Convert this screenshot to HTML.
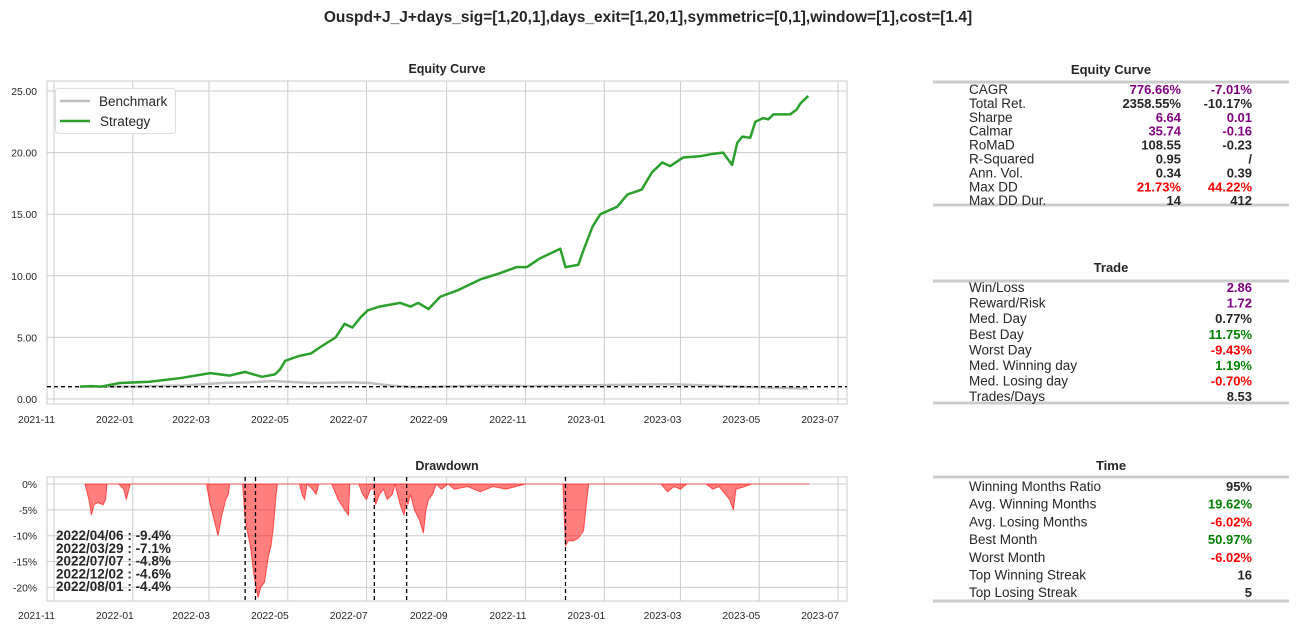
<!DOCTYPE html>
<html><head><meta charset="utf-8">
<style>
body{margin:0;background:#fff;font-family:"Liberation Sans",sans-serif;}
svg{display:block}
text{font-family:"Liberation Sans",sans-serif;fill:#262626}
</style></head>
<body>
<svg id="c" width="1297" height="631" viewBox="0 0 1297 631">
<text x="648" y="22" text-anchor="middle" font-size="15.5" font-weight="bold">Ouspd+J_J+days_sig=[1,20,1],days_exit=[1,20,1],symmetric=[0,1],window=[1],cost=[1.4]</text>
<g id="eq"></g>
<g id="dd"></g>
<g id="tb"></g>
</svg>
<script>
// days since 2021-11-01
const stratDays=[20,29,36,51,74,98,121,136,148,161,171,175,179,190,199,206,218,225,231,238,243,252,268,276,282,290,299,312,330,345,358,366,376,392,396,406,410,417,423,436,444,455,463,471,477,487,500,510,518,525,529,533,539,543,549,553,557,570,575,578,584];
const stratVals=[1.0,1.05,1.0,1.3,1.4,1.7,2.1,1.9,2.2,1.8,2.0,2.4,3.1,3.5,3.7,4.2,5.0,6.1,5.8,6.7,7.2,7.5,7.8,7.5,7.8,7.3,8.3,8.8,9.7,10.2,10.7,10.7,11.4,12.2,10.7,10.9,12.1,14.0,15.0,15.6,16.6,17.0,18.4,19.2,18.9,19.6,19.7,19.9,20.0,19.0,20.8,21.3,21.2,22.5,22.8,22.7,23.1,23.1,23.5,24.0,24.6];
const benchDays=[20,60,100,130,150,170,180,200,230,245,260,280,300,340,370,400,440,480,520,560,584];
const benchVals=[1.0,1.0,1.1,1.3,1.35,1.45,1.4,1.3,1.35,1.3,1.1,0.95,1.0,1.1,1.05,1.1,1.15,1.2,1.05,0.9,0.85];
const ddDays=[24,27,29,31,34,38,40,41,50,54,56,58,59,60,118,121,124,127,130,133,135,136,146,148,152,155,158,160,163,166,168,170,172,173,190,192,194,196,200,203,205,215,220,225,228,229,236,239,242,245,248,249,252,255,258,262,264,268,271,273,274,276,279,283,286,288,290,293,296,300,305,310,320,330,340,350,365,394,396,398,402,406,410,413,414,470,475,480,485,490,505,510,515,523,526,528,535,540,585];
const ddVals=[0,-3,-6,-4,-3.6,-4,-3,0,0,-1,-3,-1,0,0,0,-4,-7,-10,-6,-3,-2,0,0,-7,-12,-18,-22,-20,-19,-14,-12,-8,-2,0,0,-2,-3,0,-1,-2,0,0,-3,-5,-6,0,0,-2,-3,-1,-1,-4,-2,-1,-3,-2,0,-4,-6,-3,-4,-2,-5,-7,-9.5,-5,-3,-2,0,-1,0,-1,-0.5,-1.5,-0.5,-1,0,0,-12,-11,-11,-10.5,-9,-2,0,0,-1.5,-0.5,-1,0,0,-1,-0.5,-3,-5,-1,-0.5,0,0];
const vlineDays=[148,156,248,273,396];
const ddNotes=["2022/04/06 : -9.4%","2022/03/29 : -7.1%","2022/07/07 : -4.8%","2022/12/02 : -4.6%","2022/08/01 : -4.4%"];
const monthTickDays=[0,61,120,181,242,304,365,426,485,546,607];
const monthTickLabels=["2021-11","2022-01","2022-03","2022-05","2022-07","2022-09","2022-11","2023-01","2023-03","2023-05","2023-07"];
const eqTicks=[0,5,10,15,20,25];
const ddTicks=[0,-5,-10,-15,-20];

const NS="http://www.w3.org/2000/svg";
function el(tag,attrs,parent,txt){const e=document.createElementNS(NS,tag);for(const k in attrs)e.setAttribute(k,attrs[k]);if(txt!==undefined)e.textContent=txt;parent.appendChild(e);return e;}
const X=d=>54+d*1.2916;
const L=47,R=847;
// Equity chart
const eq=document.getElementById('eq');
const T1=81,B1=404;
const Y1=v=>399-v*12.32;
let r=el('rect',{x:L,y:T1,width:R-L,height:B1-T1,fill:'#fff',stroke:'#ccc','stroke-width':1},eq);

el('text',{x:(L+R)/2,y:73,'text-anchor':'middle','font-size':12.5,'font-weight':'bold'},eq,'Equity Curve');
monthTickDays.forEach((d,i)=>{
  const ln=el('line',{x1:X(d),x2:X(d),y1:T1,y2:B1,stroke:'#ccc'},eq);
  
  const t=el('text',{x:X(d)+1,y:423,'text-anchor':'end','font-size':10.3},eq,monthTickLabels[i]);
  
});
eqTicks.forEach(v=>{
  const ln=el('line',{x1:L,x2:R,y1:Y1(v),y2:Y1(v),stroke:'#ccc'},eq);
  
  const t=el('text',{x:37,y:Y1(v)+4,'text-anchor':'end','font-size':10.3},eq,v.toFixed(2));
  
});
let bp=el('polyline',{points:benchDays.map((d,i)=>X(d)+','+Y1(benchVals[i])).join(' '),fill:'none',stroke:'#c0c0c0','stroke-width':2.5},eq);

let hl=el('line',{x1:L,x2:R,y1:Y1(1),y2:Y1(1),stroke:'#000','stroke-width':1.3,'stroke-dasharray':'4,3'},eq);

let sp=el('polyline',{points:stratDays.map((d,i)=>X(d)+','+Y1(stratVals[i])).join(' '),fill:'none',stroke:'#2ca02c','stroke-width':2.5,'stroke-linejoin':'round'},eq);

const lg=el('g',{},eq);
el('rect',{x:55.5,y:88.5,width:120,height:45,rx:3,fill:'#fff',stroke:'#ddd'},lg);
el('line',{x1:60,x2:90,y1:101,y2:101,stroke:'#c0c0c0','stroke-width':2.5},lg);
el('text',{x:99,y:106,'font-size':13.5},lg,'Benchmark');
el('line',{x1:60,x2:90,y1:121,y2:121,stroke:'#2ca02c','stroke-width':2.5},lg);
el('text',{x:100,y:126,'font-size':13.5},lg,'Strategy');

// Drawdown chart
const dd=document.getElementById('dd');
const T2=477,B2=601;
const Y2f=v=>484+(-v)*5.17;
r=el('rect',{x:L,y:T2,width:R-L,height:B2-T2,fill:'#fff',stroke:'#ccc'},dd);

el('text',{x:(L+R)/2,y:470,'text-anchor':'middle','font-size':12.5,'font-weight':'bold'},dd,'Drawdown');
monthTickDays.forEach((d,i)=>{
  const ln=el('line',{x1:X(d),x2:X(d),y1:T2,y2:B2,stroke:'#ccc'},dd);
  
  const t=el('text',{x:X(d)+1,y:619,'text-anchor':'end','font-size':10.3},dd,monthTickLabels[i]);
  
});
ddTicks.forEach(v=>{
  const ln=el('line',{x1:L,x2:R,y1:Y2f(v),y2:Y2f(v),stroke:'#ccc'},dd);
  
  const t=el('text',{x:37,y:Y2f(v)+4,'text-anchor':'end','font-size':10.3},dd,v+'%');
  
});
let pts=ddDays.map((d,i)=>X(d)+','+Y2f(ddVals[i]));
let area=el('polygon',{points:X(ddDays[0])+','+Y2f(0)+' '+pts.join(' ')+' '+X(ddDays[ddDays.length-1])+','+Y2f(0),fill:'rgba(255,0,0,0.5)',stroke:'rgba(255,0,0,0.6)','stroke-width':1},dd);

vlineDays.forEach(d=>{
  const ln=el('line',{x1:X(d),x2:X(d),y1:T2,y2:B2,stroke:'#000','stroke-width':1.3,'stroke-dasharray':'4,3'},dd);
  
});
ddNotes.forEach((s,i)=>{
  const t=el('text',{x:56,y:540+i*12.8,'font-size':13.5,'font-weight':'bold'},dd,s);
  
});

// Tables
const tb=document.getElementById('tb');
function table(title,ty,lineTop,lineBot,rowY0,step,rows,twoCols,nm){
  const g=el('g',{},tb);
  el('text',{x:1111,y:ty,'text-anchor':'middle','font-size':13,'font-weight':'bold'},g,title);
  el('line',{x1:933,x2:1289,y1:lineTop,y2:lineTop,stroke:'#ccc','stroke-width':3},g);
  el('line',{x1:933,x2:1289,y1:lineBot,y2:lineBot,stroke:'#ccc','stroke-width':3},g);
  rows.forEach((rw,i)=>{
    const y=rowY0+i*step;
    el('text',{x:969,y:y,'font-size':13.5},g,rw[0]);
    if(twoCols){
      el('text',{x:1181,y:y,'text-anchor':'end','font-size':13,'font-weight':'bold',style:'fill:'+rw[2]},g,rw[1]);
      el('text',{x:1252,y:y,'text-anchor':'end','font-size':13,'font-weight':'bold',style:'fill:'+rw[4]},g,rw[3]);
    } else {
      el('text',{x:1252,y:y,'text-anchor':'end','font-size':13,'font-weight':'bold',style:'fill:'+rw[2]},g,rw[1]);
    }
  });
}
const P='#800080',K='#262626',G='#008000',Rd='#ff0000';
table('Equity Curve',74,82,205,94,13.9,[
 ['CAGR','776.66%',P,'-7.01%',P],['Total Ret.','2358.55%',K,'-10.17%',K],['Sharpe','6.64',P,'0.01',P],
 ['Calmar','35.74',P,'-0.16',P],['RoMaD','108.55',K,'-0.23',K],['R-Squared','0.95',K,'/',K],
 ['Ann. Vol.','0.34',K,'0.39',K],['Max DD','21.73%',Rd,'44.22%',Rd],['Max DD Dur.','14',K,'412',K]],true,'equity-stats-table');
table('Trade',272,281,403,292,15.6,[
 ['Win/Loss','2.86',P],['Reward/Risk','1.72',P],['Med. Day','0.77%',K],['Best Day','11.75%',G],
 ['Worst Day','-9.43%',Rd],['Med. Winning day','1.19%',G],['Med. Losing day','-0.70%',Rd],['Trades/Days','8.53',K]],false,'trade-stats-table');
table('Time',470,477,601,491,17.7,[
 ['Winning Months Ratio','95%',K],['Avg. Winning Months','19.62%',G],['Avg. Losing Months','-6.02%',Rd],
 ['Best Month','50.97%',G],['Worst Month','-6.02%',Rd],['Top Winning Streak','16',K],['Top Losing Streak','5',K]],false,'time-stats-table');
</script>
</body></html>
